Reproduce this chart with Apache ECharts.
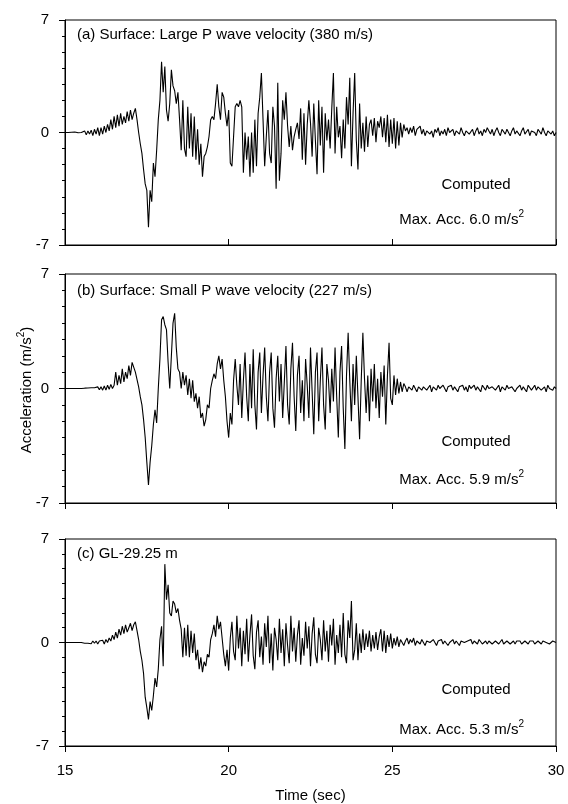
<!DOCTYPE html>
<html><head><meta charset="utf-8">
<script src="https://cdn.jsdelivr.net/npm/echarts@6/dist/echarts.min.js"></script>
<style>html,body{margin:0;padding:0;background:#fff}#c{width:568px;height:804px}</style>
</head><body><div id="c"></div>
<script>
// time axis: samples every 0.05 s starting at 15 s
const timeStart = 15;
const timeStep = 0.05;
const xTicks = [15, 20, 25, 30];
const yTicks = [-7, 0, 7];

// (a) Surface: Large P wave velocity (380 m/s)
const accA = [
0,0,0,0,0.02,0,0.03,0,-0.02,0.03,
0,-0.1,0.1,-0.15,0.1,-0.1,0.15,-0.2,0.2,-0.1,
0.3,-0.2,0.3,-0.1,0.4,0.0,0.5,0.1,0.8,0.2,
1.0,0.3,1.1,0.4,1.2,0.5,1.0,0.6,1.3,0.7,
1.4,0.8,1.2,1.5,0.8,0.0,-0.7,-1.3,-2.3,-3.2,
-3.6,-5.9,-3.6,-4.3,-1.9,-2.75,-1.1,0.8,2.0,4.4,
2.5,4.1,1.4,0.7,1.8,3.9,2.9,2.6,1.8,2.5,
0.8,-1.1,2.0,-1.0,-1.5,1.6,-1.0,1.2,-1.5,1.0,
-1.7,0.2,-2.0,-0.7,-2.75,-1.5,-1.3,-0.9,-0.25,0.8,
1.0,0.8,1.8,3.0,1.6,0.8,2.5,2.2,1.2,0.4,
1.4,-1.9,-2.1,-2.1,1.6,1.8,1.6,2.0,1.6,-2.5,
0.0,-1.7,-0.25,-2.75,0.0,-2.5,0.8,-2.1,1.2,2.2,
3.7,0.8,-2.1,-0.25,1.4,-1.3,-1.9,1.6,0.4,-3.5,
3.1,-3.0,-1.3,2.0,0.8,2.5,0.4,-0.9,0.4,-1.1,
-0.25,0.2,0.6,-0.4,1.5,-1.7,1.2,-2.0,0.5,2.0,
0.6,-1.5,1.8,-0.5,-2.6,2.0,-0.8,1.6,-2.5,1.2,
-0.5,0.8,-1.0,1.5,3.7,-1.3,1.6,-0.3,0.4,-1.6,
0.8,-1.0,2.2,0.5,3.4,-2.1,1.2,3.7,-0.5,-2.3,
1.8,-1.0,0.6,-1.2,1.0,-0.9,0.5,0.8,-0.2,0.9,
-0.6,0.7,0.3,1.0,-0.3,0.9,-0.6,1.1,-0.9,0.8,
-0.7,0.9,-1.0,0.7,-0.8,0.6,-0.3,0.5,0.1,0.3,
-0.1,0.3,0.0,0.4,-0.2,0.2,0.1,0.4,-0.1,0.2,
-0.2,0.1,0.2,-0.1,0.1,-0.3,0.2,0.0,0.3,-0.2,
0.1,-0.1,0.2,-0.2,0.3,0.0,-0.1,0.2,-0.2,0.1,
0.2,-0.1,0.3,0.0,-0.2,0.1,0.2,-0.1,0.0,0.2,
-0.2,0.1,0.3,-0.1,0.1,-0.2,0.2,0.0,0.3,0.1,
-0.1,0.2,-0.2,0.1,0.3,0.0,-0.2,0.2,0.1,-0.1,
0.2,0.0,-0.2,0.1,0.3,-0.1,0.1,0.2,-0.2,0.1,
0.3,-0.1,0.0,0.2,-0.2,0.1,0.2,0.0,-0.2,0.2,
0.1,-0.1,0.3,0.0,-0.2,0.1,0.2,-0.1,0.1,-0.2,
0.0];

// (b) Surface: Small P wave velocity (227 m/s)
const accB = [
0,0,0,0,0,0,0,0,0,0,
0,0,0.02,-0.02,0.03,-0.03,0.05,-0.05,0.05,-0.05,
0.1,-0.08,0.1,-0.1,0.15,-0.1,0.2,-0.05,0.25,0.0,
0.2,1.0,0.2,0.8,0.3,1.2,0.4,1.0,0.6,1.4,
0.8,1.6,1.5,1.0,1.0,0.1,-0.5,-1.0,-1.9,-3.0,
-4.5,-5.9,-4.5,-3.5,-2.2,-1.3,-2.1,0.0,1.8,4.2,
4.4,3.9,3.6,1.6,0.0,2.0,4.0,4.6,2.5,1.2,
1.0,0.0,1.0,0.2,0.8,-0.4,0.6,-0.6,0.5,-0.8,
-0.3,-1.2,-0.5,-1.8,-1.5,-2.3,-1.9,-1.0,-1.2,0.0,
0.5,0.9,0.6,1.5,2.0,1.2,1.8,0.5,-0.5,-2.0,
-3.0,-1.5,-2.2,0.5,1.8,0.2,-1.0,1.5,-1.8,0.5,
2.2,-0.5,-2.0,1.5,-1.2,2.4,-1.0,-2.5,1.0,2.2,
-1.5,0.8,2.5,-0.5,-2.0,1.0,2.2,-1.2,-2.4,0.6,
2.0,-0.8,1.5,-1.8,0.4,2.6,-1.0,-2.2,1.2,2.8,
-0.5,-2.6,0.8,2.0,-1.5,0.5,-2.0,1.8,0.2,-1.8,
2.5,-0.2,-2.8,1.0,2.2,-2.0,0.5,2.5,-1.0,-2.5,
1.5,0.5,-1.5,1.2,-0.8,2.5,-0.5,-3.0,1.0,2.6,
-1.2,-3.7,0.8,3.4,0.5,-2.0,1.5,-1.0,2.0,-0.5,
-3.1,0.5,3.4,0.6,-1.5,0.8,-2.0,1.2,-0.8,1.5,
-1.2,0.6,-1.8,1.0,-0.5,1.4,-2.2,0.8,2.8,-0.6,
-1.0,0.8,-0.4,0.6,-0.3,0.4,-0.2,0.3,0.1,-0.2,
0.1,0.2,-0.1,0.2,0.0,-0.2,0.1,0.2,-0.1,0.1,
0.2,-0.1,0.0,0.2,-0.2,0.1,0.1,-0.1,0.2,0.0,
-0.1,0.2,0.1,-0.2,0.1,0.0,0.2,-0.1,0.1,0.2,
-0.2,0.1,0.0,0.2,-0.1,0.1,-0.2,0.2,0.0,0.1,
0.2,-0.1,0.1,0.0,-0.2,0.2,0.1,-0.1,0.2,0.0,
-0.1,0.1,0.2,-0.1,0.0,0.2,-0.2,0.1,0.1,-0.1,
0.2,0.0,-0.1,0.1,0.2,-0.2,0.0,0.1,0.2,-0.1,
0.1,0.0,-0.2,0.2,0.1,-0.1,0.0,0.2,-0.1,0.1,
0.2,-0.1,0.0,0.1,-0.2,0.2,0.0,0.1,-0.1,0.1,
0.0];

// (c) GL-29.25 m
const accC = [
0,0,0,0,0,0,0,0,0,0,
0,0.03,-0.05,0.05,-0.05,0.08,-0.08,0.1,-0.05,0.1,
-0.1,0.1,0.0,0.15,-0.1,0.2,0.0,0.3,0.1,0.5,
0.2,0.7,0.3,0.9,0.5,1.1,0.6,1.2,0.7,1.0,
1.3,0.8,1.2,1.4,0.8,0.2,-0.6,-1.2,-2.1,-3.7,
-4.4,-5.2,-4.0,-4.6,-3.6,-2.4,-3.0,-1.8,0.2,1.1,
-1.6,5.3,2.9,3.9,2.0,1.8,2.8,2.6,2.0,2.3,
1.5,0.9,-1.0,1.0,-0.9,1.2,-1.0,0.8,-0.7,0.6,
-1.2,-0.5,-1.8,-1.0,-2.0,-1.3,-1.6,-0.8,-1.0,0.2,
0.6,1.2,0.4,1.8,0.9,1.4,0.3,-0.8,-1.6,-0.5,
-1.9,0.3,1.4,-0.6,-1.2,1.8,-0.4,1.0,-1.6,0.8,
-0.8,1.6,-1.3,0.5,1.9,-0.9,-1.8,0.7,1.5,-1.0,
0.4,-1.5,1.3,-0.3,1.8,-1.4,0.6,-1.9,1.0,0.2,
-1.2,1.6,-0.7,0.9,-1.6,1.3,-0.2,-1.4,1.8,-0.6,
1.0,-1.3,0.5,1.5,-1.5,0.3,-0.9,1.4,-0.4,1.1,
-1.6,0.6,1.7,-0.8,-1.4,1.0,0.2,-1.2,1.5,-0.6,
0.8,-1.3,1.2,-0.2,1.6,-1.5,0.5,-0.7,1.2,-1.0,
2.0,-0.8,-1.4,1.5,0.3,2.8,-1.2,-0.5,1.3,-1.2,
0.6,-0.7,0.9,-0.5,0.6,-0.3,0.8,-0.6,0.5,-0.4,
0.7,-0.5,0.4,0.9,-0.6,0.8,-0.7,0.5,-0.3,0.6,
-0.4,0.3,-0.2,0.4,-0.3,0.2,0.3,-0.2,0.1,0.3,
-0.1,0.2,0.0,0.3,-0.2,0.1,0.2,-0.1,0.2,0.0,
-0.2,0.1,0.2,0.0,-0.1,0.2,0.1,-0.2,0.1,0.0,
0.2,-0.1,0.1,0.2,-0.2,0.0,0.1,0.2,-0.1,0.1,
0.0,-0.2,0.1,0.2,0.0,-0.1,0.1,0.0,0.2,-0.1,
0.1,0.0,-0.1,0.2,0.1,-0.1,0.0,0.1,-0.1,0.1,
0.2,-0.1,0.0,0.1,0.1,-0.1,0.0,0.2,-0.1,0.0,
0.1,0.1,-0.1,0.0,0.1,-0.1,0.1,0.0,0.1,-0.1,
0.0,0.1,0.0,-0.1,0.1,0.0,0.1,-0.1,0.0,0.1,
0.0,-0.1,0.1,0.0,0.0,0.1,-0.1,0.0,0.1,0.0,
0.0];

const panelTitles = ['(a) Surface: Large P wave velocity (380 m/s)', '(b) Surface: Small P wave velocity (227 m/s)', '(c) GL-29.25 m'];
const maxAcc = ['6.0', '5.9', '5.3'];

const FONT = 'Liberation Sans, Arial, sans-serif';
const grids = [
  {left: 65, width: 491, top: 20, height: 225},
  {left: 65, width: 491, top: 274, height: 229},
  {left: 65, width: 491, top: 539, height: 207}
];
const toPairs = arr => arr.map((v, i) => [+(timeStart + i * timeStep).toFixed(2), v]);
const series = [accA, accB, accC];

const chart = echarts.init(document.getElementById('c'), null, {renderer: 'canvas'});
const option = {
  animation: false,
  backgroundColor: '#fff',
  grid: grids.map(g => Object.assign({show: true, borderColor: '#000', borderWidth: 1, backgroundColor: 'transparent'}, g)),
  xAxis: grids.map((g, k) => ({
    type: 'value', gridIndex: k, min: xTicks[0], max: xTicks[xTicks.length - 1], interval: 5,
    axisLine: {show: true, onZero: false, lineStyle: {color: '#000', width: 1}},
    axisTick: {show: true, inside: k === 0, length: 6, lineStyle: {color: '#000'}},
    splitLine: {show: false},
    axisLabel: {show: k === 2, fontSize: 15, color: '#000', fontFamily: FONT, margin: 17},
    name: k === 2 ? 'Time (sec)' : '', nameLocation: 'middle', nameGap: 42,
    nameTextStyle: {fontSize: 15, color: '#000', fontFamily: FONT}
  })),
  yAxis: grids.map((g, k) => ({
    type: 'value', gridIndex: k, min: yTicks[0], max: yTicks[2], interval: 7,
    axisLine: {show: true, onZero: false, lineStyle: {color: '#000', width: 1}},
    axisTick: {show: true, inside: false, length: 6, lineStyle: {color: '#000'}},
    minorTick: {show: true, splitNumber: 7, length: 3, lineStyle: {color: '#000'}},
    splitLine: {show: false}, minorSplitLine: {show: false},
    axisLabel: {fontSize: 15, color: '#000', fontFamily: FONT, margin: 16}
  })),
  series: series.map((arr, k) => ({
    type: 'line', xAxisIndex: k, yAxisIndex: k, data: toPairs(arr),
    showSymbol: false, symbol: 'none', clip: true,
    lineStyle: {color: '#000', width: 1.1}
  })),
  graphic: []
};

const labelY = [36, 292, 555];
const compY = [185, 442, 690];
const maxY = [218, 478, 728];
for (let k = 0; k < 3; k++) {
  option.graphic.push({type: 'text', left: 77, top: labelY[k] - 9, style: {text: panelTitles[k], font: '15px ' + FONT, fill: '#000'}});
  option.graphic.push({type: 'text', x: 476, y: compY[k], style: {text: 'Computed', font: '15px ' + FONT, fill: '#000', textAlign: 'center', textVerticalAlign: 'middle'}});
  option.graphic.push({type: 'text', x: 524, y: maxY[k], style: {
    text: '{n|Max. Acc. ' + maxAcc[k] + ' m/s}{s|2}', textAlign: 'right', textVerticalAlign: 'middle',
    rich: {n: {fontSize: 15, fontFamily: FONT, fill: '#000', color: '#000', lineHeight: 18, verticalAlign: 'bottom'},
           s: {fontSize: 10, fontFamily: FONT, fill: '#000', color: '#000', lineHeight: 18, verticalAlign: 'top'}}
  }});
}
option.graphic.push({type: 'text', x: 25, y: 390, rotation: Math.PI / 2, style: {
  text: '{n|Acceleration (m/s}{s|2}{n|)}', textAlign: 'center', textVerticalAlign: 'middle',
  rich: {n: {fontSize: 15, fontFamily: FONT, color: '#000', lineHeight: 18, verticalAlign: 'bottom'},
         s: {fontSize: 10, fontFamily: FONT, color: '#000', lineHeight: 18, verticalAlign: 'top'}}
}});
chart.setOption(option);
</script></body></html>
